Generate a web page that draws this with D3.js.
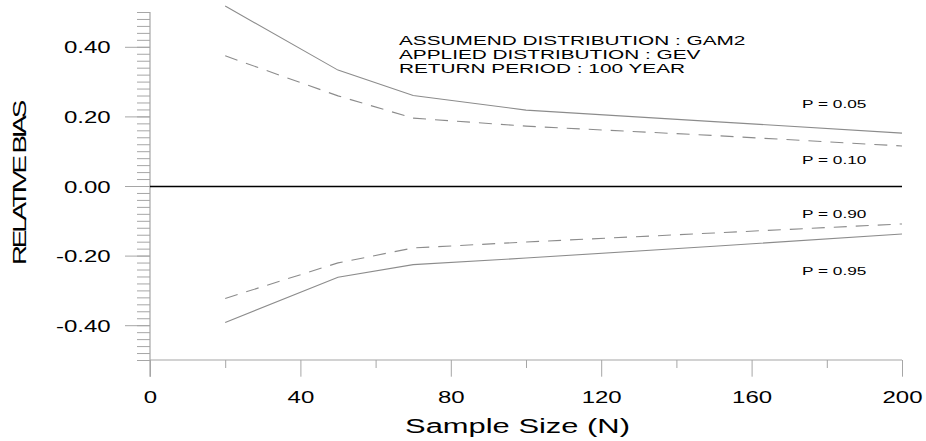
<!DOCTYPE html>
<html>
<head>
<meta charset="utf-8">
<script src="https://cdn.jsdelivr.net/npm/d3@7"></script>
<style>
  html, body { margin: 0; padding: 0; background: #fff; }
  svg { display: block; }
  text { font-family: "Liberation Sans", Arial, Helvetica, sans-serif; fill: #000; }
</style>
</head>
<body>
<svg id="chart" width="926" height="441"></svg>
<script>
// Sample sizes and relative bias for each quantile curve
const sampleSizes = [20, 50, 70, 100, 150, 200];
const biasP05 = [0.517, 0.333, 0.260, 0.218, 0.185, 0.152];
const biasP10 = [0.374, 0.259, 0.195, 0.172, 0.145, 0.115];
const biasP90 = [-0.323, -0.221, -0.178, -0.161, -0.135, -0.109];
const biasP95 = [-0.392, -0.262, -0.226, -0.207, -0.173, -0.138];

const xTickValues = [0, 40, 80, 120, 160, 200];
const yTickValues = [-0.4, -0.2, 0.0, 0.2, 0.4];
const curveLabels = ["P = 0.05", "P = 0.10", "P = 0.90", "P = 0.95"];
const noteLines = [
  "ASSUMEND DISTRIBUTION : GAM2",
  "APPLIED DISTRIBUTION : GEV",
  "RETURN PERIOD : 100 YEAR"
];

const svg = d3.select("#chart");
const SX = 1.5; // wide lettering

const x = d3.scaleLinear().domain([0, 200]).range([150, 902]);
const y = d3.scaleLinear().domain([-0.5, 0.5]).range([360, 12]);

const axisColor = "#a6a6a6";
const fmtY = v => d3.format(".2f")(v).replace("\u2212", "-");

// ---- Y axis: minor ticks every 0.02, labelled majors every 0.2
const yMinor = d3.range(-50, 51, 2).map(v => v / 100);
const gyMinor = svg.append("g").attr("transform", `translate(${x(0)},0)`)
  .call(d3.axisLeft(y).tickValues(yMinor).tickSize(13).tickSizeOuter(0).tickFormat(""));
gyMinor.select(".domain").remove();
gyMinor.selectAll("line").attr("stroke", axisColor);

const gyMajor = svg.append("g").attr("transform", `translate(${x(0)},0)`)
  .call(d3.axisLeft(y).tickValues(yTickValues).tickSize(25).tickSizeOuter(0)
    .tickFormat(fmtY));
gyMajor.select(".domain").remove();
gyMajor.selectAll("line").attr("stroke", axisColor);
gyMajor.selectAll("text")
  .attr("x", null).attr("dy", null).attr("fill", "#000")
  .attr("font-size", 16)
  .attr("text-anchor", "end")
  .attr("transform", `translate(-39.3,6) scale(${SX},1)`);

// ---- X axis: minor ticks at 20s, labelled majors at 40s
const xMinor = d3.range(20, 200, 40);
const gxMinor = svg.append("g").attr("transform", `translate(0,${y(-0.5)})`)
  .call(d3.axisBottom(x).tickValues(xMinor).tickSize(8).tickSizeOuter(0).tickFormat(""));
gxMinor.select(".domain").remove();
gxMinor.selectAll("line").attr("stroke", axisColor);

const gxMajor = svg.append("g").attr("transform", `translate(0,${y(-0.5)})`)
  .call(d3.axisBottom(x).tickValues(xTickValues).tickSize(16.7).tickSizeOuter(0)
    .tickFormat(d3.format("d")));
gxMajor.select(".domain").remove();
gxMajor.selectAll("line").attr("stroke", axisColor);
gxMajor.selectAll("text")
  .attr("y", null).attr("dy", null).attr("fill", "#000")
  .attr("font-size", 16)
  .attr("text-anchor", "middle")
  .attr("transform", `translate(0,43) scale(${SX},1)`);

// axis lines
svg.append("line")
  .attr("x1", x(0)).attr("x2", x(0))
  .attr("y1", y(0.5)).attr("y2", y(-0.5) + 16.7)
  .attr("stroke", axisColor).attr("stroke-width", 1.2);
svg.append("line")
  .attr("x1", x(0)).attr("x2", x(200))
  .attr("y1", y(-0.5)).attr("y2", y(-0.5))
  .attr("stroke", axisColor).attr("stroke-width", 1.2);

// zero reference line
svg.append("line")
  .attr("x1", x(0)).attr("x2", x(200))
  .attr("y1", Math.round(y(0)) + 0.5).attr("y2", Math.round(y(0)) + 0.5)
  .attr("stroke", "#000").attr("stroke-width", 1.3);

// ---- bias curves
const line = d3.line().x(d => x(d[0])).y(d => y(d[1]));
const curves = [
  { values: biasP05, dash: null },
  { values: biasP10, dash: "13,9" },
  { values: biasP90, dash: "13,9" },
  { values: biasP95, dash: null }
];
curves.forEach(c => {
  svg.append("path")
    .datum(sampleSizes.map((n, i) => [n, c.values[i]]))
    .attr("d", line)
    .attr("fill", "none")
    .attr("stroke", "#8c8c8c")
    .attr("stroke-width", 1.1)
    .attr("stroke-dasharray", c.dash);
});

// ---- curve labels
const labelBaselines = [108.3, 164, 218.3, 275];
curveLabels.forEach((t, i) => {
  svg.append("text")
    .attr("transform", `translate(802,${labelBaselines[i]}) scale(${SX},1)`)
    .attr("font-size", 11.5)
    .text(t);
});

// ---- note block
noteLines.forEach((t, i) => {
  svg.append("text")
    .attr("transform", `translate(399,${44.5 + i * 14}) scale(1.6,1)`)
    .attr("font-size", 13)
    .text(t);
});

// ---- axis titles
svg.append("text")
  .attr("transform", `translate(517.5,433) scale(${SX},1)`)
  .attr("font-size", 20.6)
  .attr("text-anchor", "middle")
  .text("Sample Size (N)");

svg.append("text")
  .attr("transform", "translate(26,184) rotate(-90)")
  .attr("font-size", 17.7)
  .attr("text-anchor", "middle")
  .attr("textLength", 162)
  .attr("lengthAdjust", "spacingAndGlyphs")
  .attr("letter-spacing", -2)
  .text("RELATIVE BIAS");
</script>
</body>
</html>
